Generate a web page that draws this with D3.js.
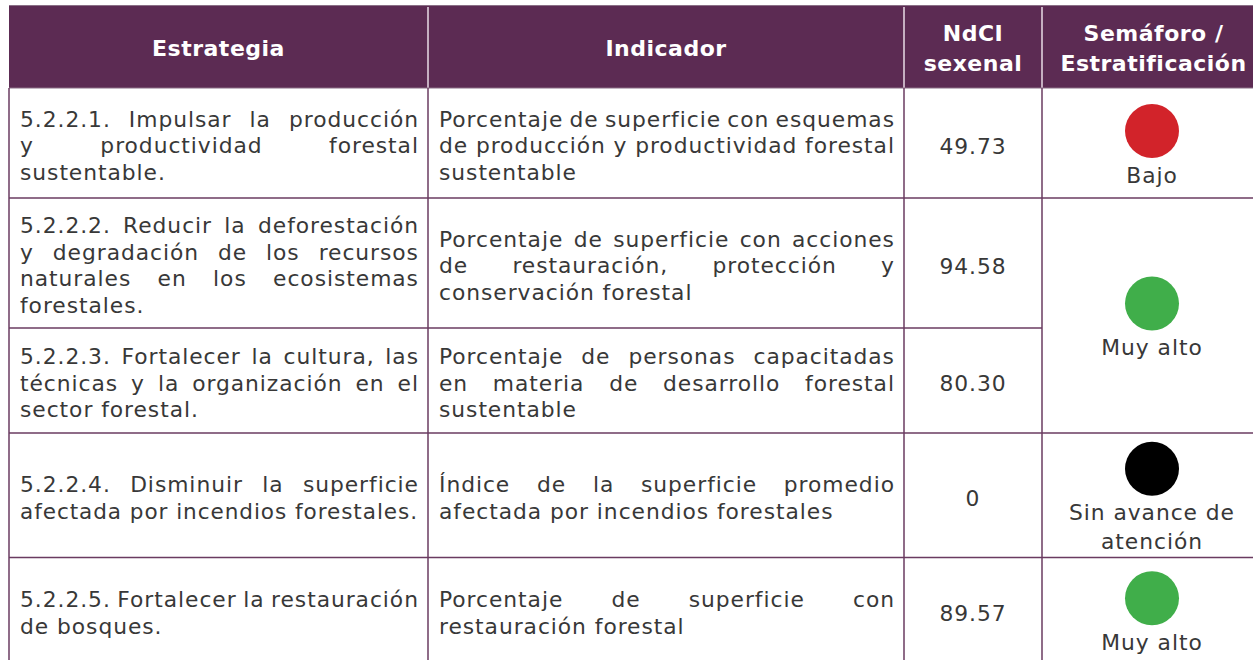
<!DOCTYPE html>
<html><head><meta charset="utf-8">
<script src="https://cdn.jsdelivr.net/npm/d3@7"></script>
<style>
html,body{margin:0;padding:0;background:#fff;}
svg{display:block;}
</style></head>
<body>
<svg id="chart" width="1253" height="660"></svg>
<script>
// ---- data ----
const headers = [["Estrategia"], ["Indicador"], ["NdCI", "sexenal"], ["Semáforo /", "Estratificación"]];
const strategies = [
  ["5.2.2.1. Impulsar la producción", "y productividad forestal", "sustentable."],
  ["5.2.2.2. Reducir la deforestación", "y degradación de los recursos", "naturales en los ecosistemas", "forestales."],
  ["5.2.2.3. Fortalecer la cultura, las", "técnicas y la organización en el", "sector forestal."],
  ["5.2.2.4. Disminuir la superficie", "afectada por incendios forestales."],
  ["5.2.2.5. Fortalecer la restauración", "de bosques."]
];
const indicators = [
  ["Porcentaje de superficie con esquemas", "de producción y productividad forestal", "sustentable"],
  ["Porcentaje de superficie con acciones", "de restauración, protección y", "conservación forestal"],
  ["Porcentaje de personas capacitadas", "en materia de desarrollo forestal", "sustentable"],
  ["Índice de la superficie promedio", "afectada por incendios forestales"],
  ["Porcentaje de superficie con", "restauración forestal"]
];
const values = ["49.73", "94.58", "80.30", "0", "89.57"];
const semaforo = [
  {from: 0, to: 0, label: ["Bajo"], level: "bajo"},
  {from: 1, to: 2, label: ["Muy alto"], level: "muyalto"},
  {from: 3, to: 3, label: ["Sin avance de", "atención"], level: "sin"},
  {from: 4, to: 4, label: ["Muy alto"], level: "muyalto"}
];
const levelColors = {bajo: "#D2232A", muyalto: "#40AE4A", sin: "#000000"};

// ---- layout ----
const colEdges = [9, 428, 904, 1042, 1265];
const headerTop = 5, headerBottom = 88;
const rowEdges = [88, 198, 328, 433, 557.5, 663];
const purple = "#5C2B53";
const lineColor = "#6A3B60";
const textColor = "#383838";
const fontFam = "'DejaVu Sans', 'Noto Sans', sans-serif";
const bodySize = 21.8, bodyLS = 0.95, lineH = 26.5;
const headSize = 22, headLS = 0.5;
const minGap = 5;

const svg = d3.select("#chart");
const x = d3.scaleOrdinal().domain(d3.range(4)).range(colEdges.slice(0, 4));
const colW = i => colEdges[i + 1] - colEdges[i];
const rowTop = d3.scaleOrdinal().domain(d3.range(5)).range(rowEdges.slice(0, 5));
const rowBot = i => rowEdges[i + 1];
const rowMid = (a, b) => (rowTop(a) + rowBot(b)) / 2;

function bodyText(sel) {
  return sel.attr("dominant-baseline", "central").attr("font-family", fontFam)
    .attr("font-size", bodySize).attr("letter-spacing", bodyLS).attr("fill", textColor);
}

// header
svg.append("rect").attr("x", colEdges[0]).attr("y", headerTop)
  .attr("width", colEdges[4] - colEdges[0]).attr("height", headerBottom - headerTop)
  .attr("fill", purple);
svg.append("line").attr("x1", colEdges[0]).attr("x2", 1253).attr("y1", headerTop + 0.5).attr("y2", headerTop + 0.5)
  .attr("stroke", "#8a6f86").attr("stroke-width", 1);
headers.forEach((h, i) => {
  const cx = x(i) + colW(i) / 2;
  const cy = (headerTop + headerBottom) / 2 + 1.5;
  h.forEach((t, k) => {
    svg.append("text").attr("x", cx).attr("y", cy + (k - (h.length - 1) / 2) * 30)
      .attr("text-anchor", "middle").attr("dominant-baseline", "central")
      .attr("font-family", fontFam).attr("font-weight", 700).attr("font-size", headSize)
      .attr("letter-spacing", headLS).attr("fill", "#fff").text(t);
  });
  if (i > 0) {
    svg.append("line").attr("x1", x(i)).attr("x2", x(i)).attr("y1", headerTop + 2).attr("y2", headerBottom)
      .attr("stroke", "#e9dde6").attr("stroke-width", 1.5);
  }
});

// justified paragraph
function drawPara(lines, x0, x1, cy) {
  const n = lines.length;
  lines.forEach((line, k) => {
    const y = cy + (k - (n - 1) / 2) * lineH;
    const g = svg.append("g");
    const words = line.split(" ");
    if (k === n - 1 || words.length < 2) {
      const t = bodyText(g.append("text").attr("x", x0).attr("y", y)).text(line);
      const w = t.node().getComputedTextLength();
      if (w > x1 - x0) t.attr("textLength", x1 - x0).attr("lengthAdjust", "spacingAndGlyphs");
      return;
    }
    const nodes = words.map(w => bodyText(g.append("text").attr("y", y)).text(w));
    let widths = nodes.map(nd => nd.node().getComputedTextLength() - bodyLS);
    let total = d3.sum(widths);
    const avail = x1 - x0;
    if (total + minGap * (words.length - 1) > avail) {
      const f = (avail - minGap * (words.length - 1)) / total;
      widths = widths.map(w => w * f);
      nodes.forEach((nd, j) => nd.attr("textLength", widths[j]).attr("lengthAdjust", "spacingAndGlyphs"));
      total = d3.sum(widths);
    }
    const gap = (avail - total) / (words.length - 1);
    let cx = x0;
    nodes.forEach((nd, j) => { nd.attr("x", cx); cx += widths[j] + gap; });
  });
}

// body rows
strategies.forEach((s, r) => {
  const cy = rowMid(r, r) + 2.5;
  drawPara(s, x(0) + 11, x(1) - 10, cy);
  drawPara(indicators[r], x(1) + 11, x(2) - 10, cy);
  bodyText(svg.append("text").attr("x", x(2) + colW(2) / 2).attr("y", cy + 0.5)
    .attr("text-anchor", "middle")).text(values[r]);
});

// semáforo
semaforo.forEach(s => {
  const cx = x(3) + 110;
  const nl = s.label.length;
  const cc = rowMid(s.from, s.to) - 12 - (nl - 1) * 14.5;
  svg.append("circle").attr("cx", cx).attr("cy", cc).attr("r", 27).attr("fill", levelColors[s.level]);
  s.label.forEach((t, k) => {
    bodyText(svg.append("text").attr("x", cx).attr("y", cc + 44 + k * 29)
      .attr("text-anchor", "middle")).text(t);
  });
});

// grid lines
const grid = svg.append("g").attr("stroke", lineColor).attr("stroke-width", 1.5);
rowEdges.slice(1, 5).forEach((y, i) => {
  const x2 = (i === 1) ? colEdges[3] : 1253;
  grid.append("line").attr("x1", colEdges[0]).attr("x2", x2).attr("y1", y).attr("y2", y);
});
grid.append("line").attr("x1", colEdges[0]).attr("x2", 1253).attr("y1", headerBottom).attr("y2", headerBottom)
  .attr("stroke", "#8a6f86").attr("stroke-width", 1);
[0, 1, 2, 3].forEach(i => {
  grid.append("line").attr("x1", colEdges[i]).attr("x2", colEdges[i]).attr("y1", headerBottom).attr("y2", 660);
});
</script>
</body></html>
